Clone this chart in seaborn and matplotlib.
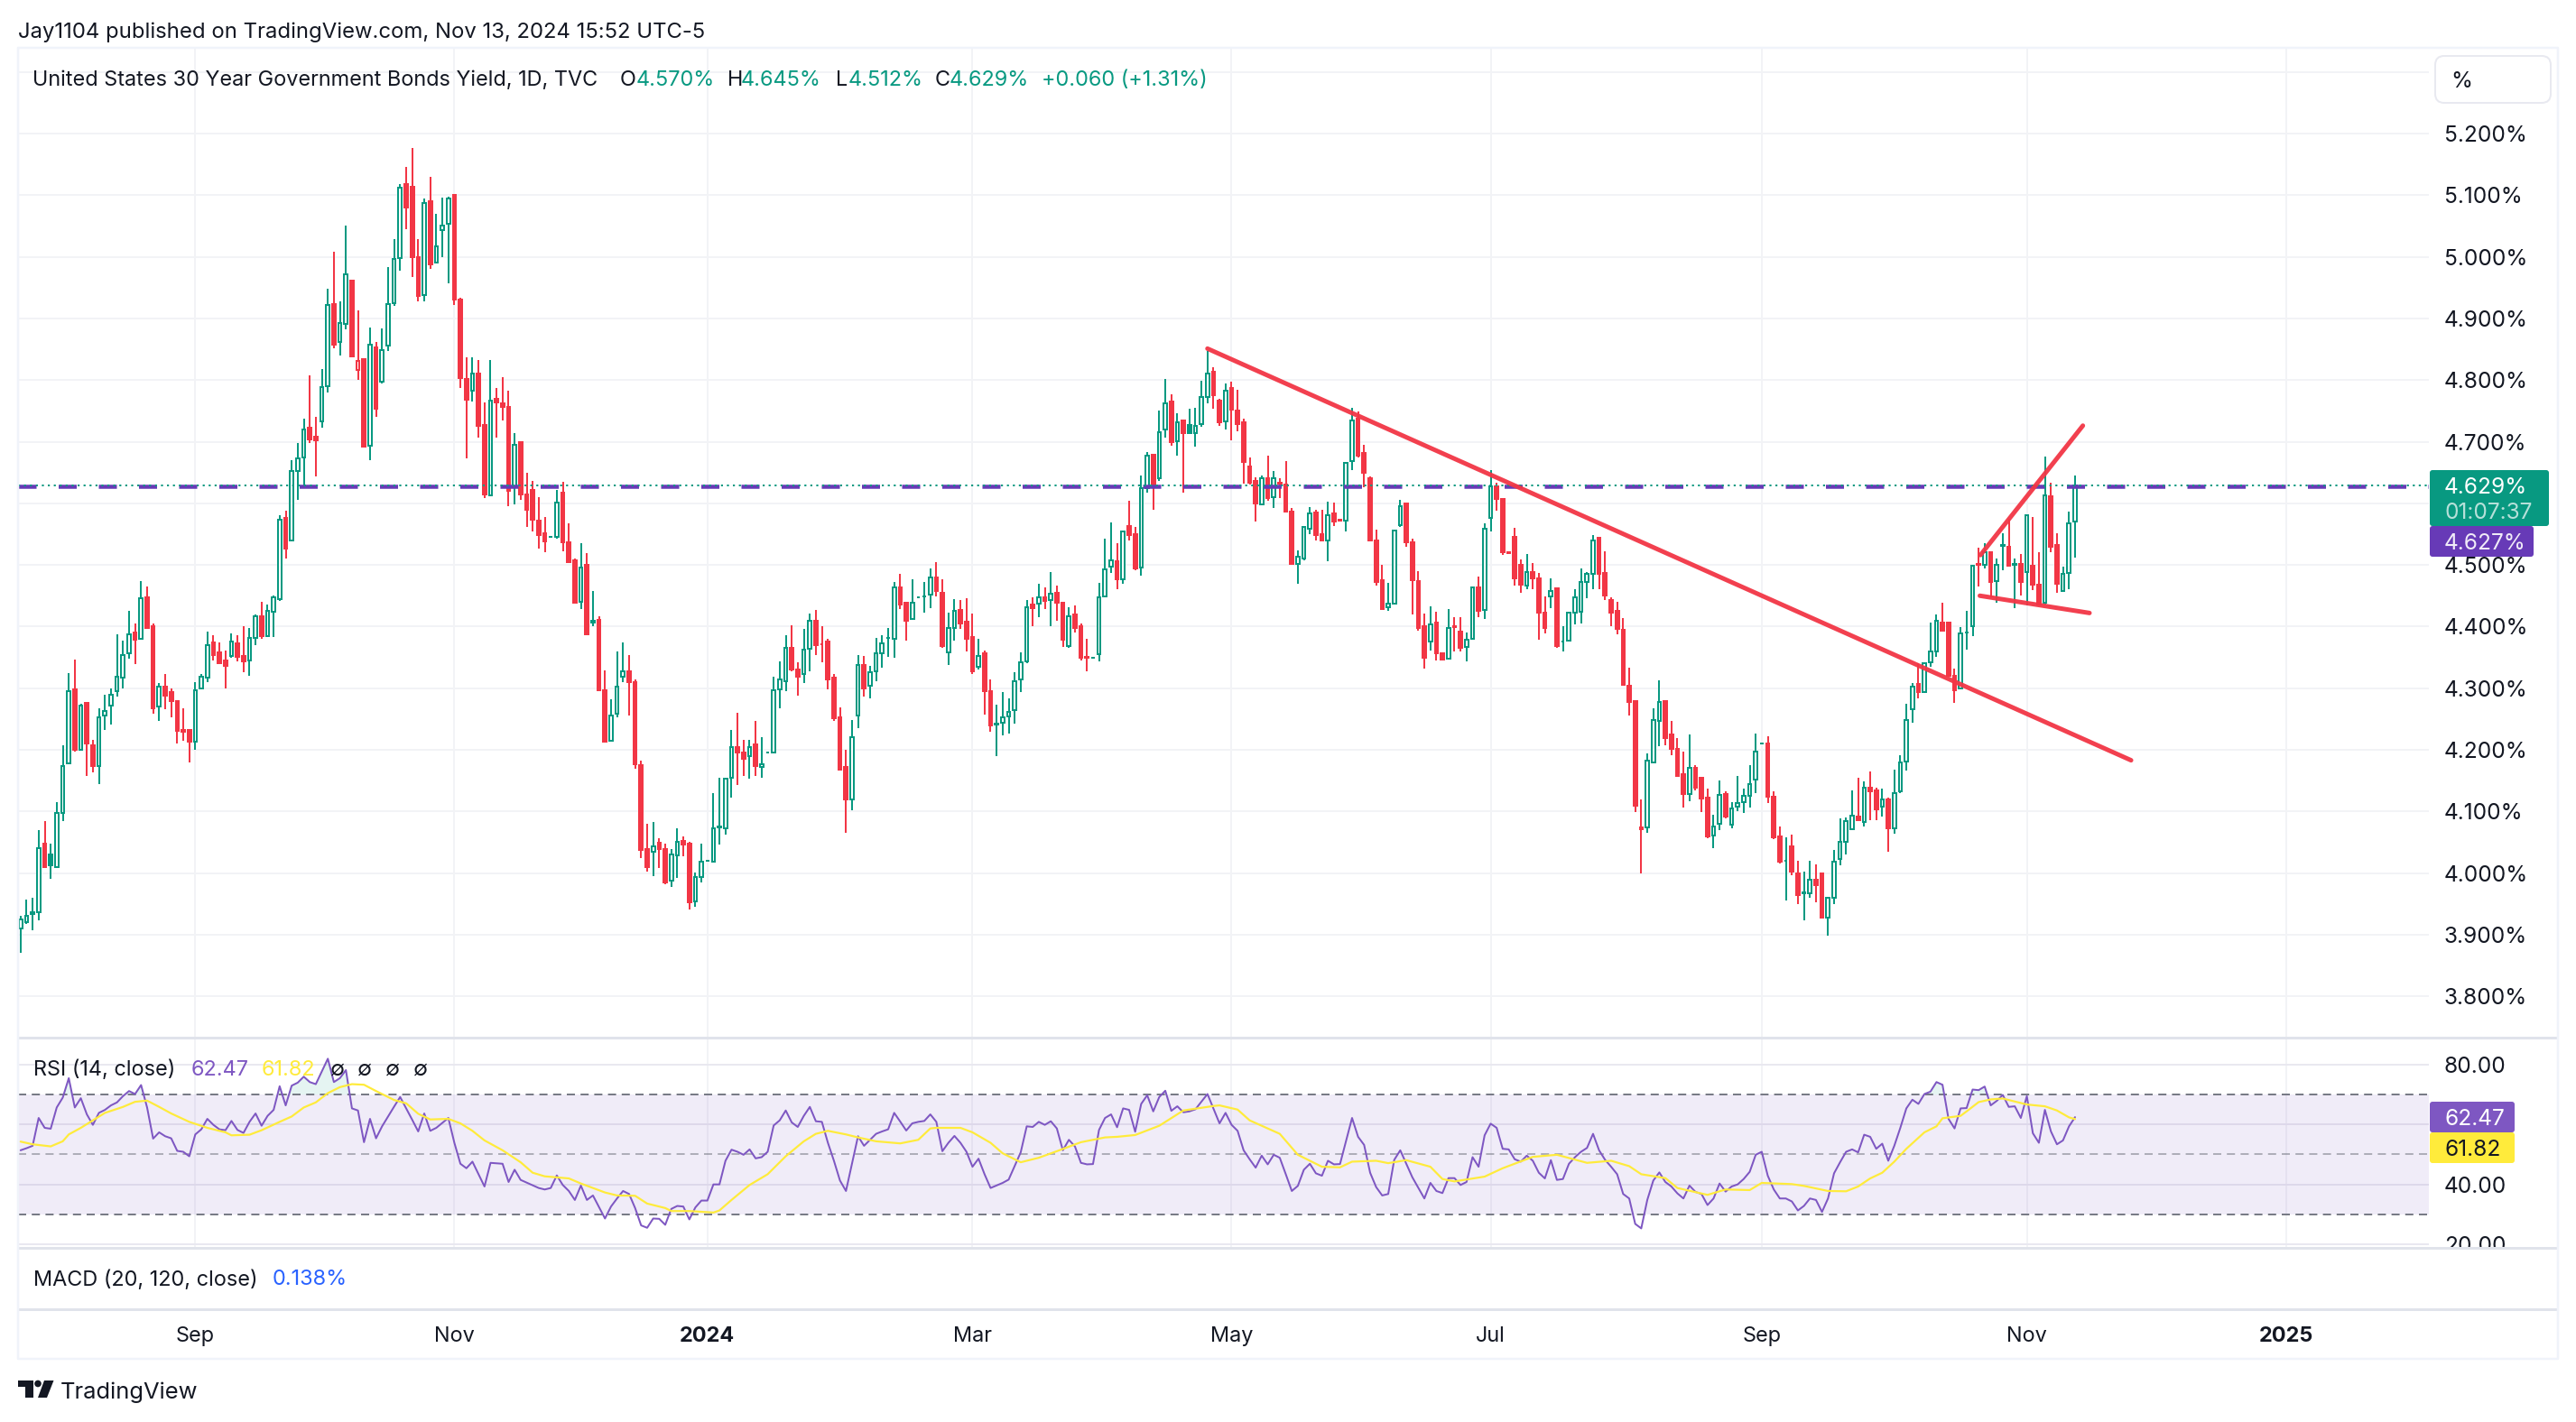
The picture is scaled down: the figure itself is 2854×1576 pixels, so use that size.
#!/usr/bin/env python3
# -*- coding: utf-8 -*-
import numpy as np
import matplotlib
matplotlib.use('Agg')
import matplotlib.pyplot as plt
from matplotlib.patches import Rectangle, Polygon, Circle, FancyBboxPatch
import seaborn as sns

### daily candles
opens = [3.91,3.92,3.933,3.937,4.047,4.03,4.01,4.097,4.178,4.298,
    4.2,4.276,4.208,4.173,4.256,4.272,4.295,4.317,4.357,4.39,
    4.38,4.447,4.4,4.27,4.302,4.293,4.279,4.232,4.232,4.213,
    4.3,4.317,4.374,4.358,4.345,4.352,4.373,4.352,4.345,4.382,
    4.417,4.385,4.424,4.445,4.577,4.54,4.653,4.675,4.723,4.708,
    4.733,4.79,4.923,4.862,4.891,4.961,4.817,4.834,4.694,4.853,
    4.797,4.856,4.925,4.998,5.118,5.113,5.0,4.938,5.09,4.99,
    5.044,5.054,5.1,4.93,4.802,4.783,4.81,4.727,4.613,4.77,
    4.762,4.757,4.626,4.7,4.615,4.622,4.572,4.551,4.546,4.545,
    4.618,4.537,4.508,4.44,4.5,4.407,4.411,4.297,4.215,4.258,
    4.318,4.328,4.31,4.175,4.039,4.035,4.049,4.039,3.987,4.029,
    4.052,4.047,3.954,3.994,4.02,4.019,4.074,4.072,4.154,4.205,
    4.195,4.19,4.209,4.172,4.196,4.196,4.298,4.312,4.366,4.331,
    4.323,4.364,4.41,4.372,4.375,4.317,4.252,4.172,4.12,4.256,
    4.337,4.304,4.328,4.356,4.382,4.38,4.463,4.438,4.412,4.447,
    4.449,4.452,4.48,4.455,4.358,4.397,4.427,4.408,4.383,4.335,
    4.357,4.295,4.241,4.244,4.254,4.264,4.314,4.343,4.435,4.437,
    4.448,4.443,4.455,4.438,4.368,4.419,4.401,4.351,4.349,4.355,
    4.449,4.497,4.506,4.477,4.563,4.55,4.496,4.625,4.679,4.641,
    4.72,4.765,4.701,4.734,4.727,4.714,4.728,4.772,4.814,4.766,
    4.733,4.787,4.75,4.731,4.66,4.636,4.598,4.641,4.61,4.633,
    4.631,4.587,4.501,4.51,4.559,4.585,4.55,4.54,4.584,4.573,
    4.572,4.668,4.738,4.682,4.641,4.539,4.475,4.431,4.437,4.565,
    4.599,4.537,4.474,4.401,4.376,4.406,4.357,4.348,4.4,4.392,
    4.367,4.38,4.464,4.427,4.576,4.627,4.607,4.52,4.546,4.5,
    4.466,4.489,4.478,4.422,4.449,4.462,4.375,4.377,4.422,4.424,
    4.473,4.486,4.544,4.487,4.443,4.425,4.395,4.304,4.279,4.074,
    4.074,4.179,4.247,4.279,4.225,4.201,4.16,4.128,4.171,4.155,
    4.122,4.061,4.08,4.128,4.078,4.108,4.115,4.126,4.151,4.21,
    4.21,4.124,4.059,4.02,4.044,4.0,3.967,3.967,3.989,4.0,
    3.928,3.96,4.023,4.05,4.071,4.091,4.083,4.139,4.134,4.108,
    4.119,4.072,4.132,4.181,4.266,4.307,4.294,4.342,4.36,4.406,
    4.406,4.32,4.299,4.39,4.401,4.501,4.5,4.521,4.474,4.531,
    4.53,4.5,4.502,4.489,4.498,4.468,4.438,4.612,4.532,4.458,4.487,4.57]
highs = [3.93,3.957,3.96,4.07,4.085,4.047,4.115,4.208,4.325,4.347,
    4.275,4.276,4.216,4.268,4.29,4.3,4.388,4.377,4.426,4.405,
    4.474,4.465,4.405,4.309,4.323,4.3,4.279,4.268,4.232,4.31,
    4.323,4.392,4.386,4.374,4.361,4.389,4.386,4.4,4.397,4.42,
    4.44,4.436,4.45,4.581,4.588,4.67,4.698,4.738,4.808,4.74,
    4.818,4.948,5.008,4.927,5.05,4.961,4.913,4.835,4.885,4.862,
    4.884,4.983,5.029,5.118,5.146,5.176,5.029,5.095,5.13,5.07,
    5.096,5.097,5.102,4.934,4.837,4.837,4.832,4.763,4.832,4.787,
    4.805,4.782,4.714,4.7,4.65,4.637,4.61,4.578,4.547,4.622,
    4.635,4.568,4.511,4.536,4.519,4.458,4.417,4.329,4.282,4.36,
    4.374,4.354,4.314,4.182,4.08,4.083,4.056,4.047,4.039,4.073,
    4.059,4.051,4.001,4.047,4.021,4.13,4.155,4.155,4.232,4.26,
    4.216,4.216,4.247,4.22,4.197,4.319,4.344,4.386,4.402,4.342,
    4.396,4.421,4.427,4.4,4.38,4.323,4.269,4.2,4.249,4.354,
    4.352,4.336,4.382,4.386,4.398,4.472,4.486,4.438,4.476,4.448,
    4.473,4.494,4.505,4.477,4.423,4.444,4.443,4.446,4.421,4.38,
    4.361,4.314,4.273,4.293,4.284,4.326,4.358,4.443,4.448,4.47,
    4.463,4.489,4.466,4.438,4.431,4.434,4.405,4.38,4.35,4.471,
    4.543,4.569,4.535,4.555,4.604,4.562,4.645,4.683,4.679,4.75,
    4.802,4.777,4.746,4.734,4.754,4.755,4.799,4.847,4.821,4.77,
    4.795,4.798,4.784,4.738,4.674,4.642,4.645,4.677,4.653,4.641,
    4.669,4.592,4.523,4.562,4.594,4.589,4.589,4.603,4.601,4.574,
    4.666,4.755,4.749,4.695,4.644,4.557,4.5,4.471,4.557,4.606,
    4.6,4.542,4.49,4.421,4.433,4.424,4.357,4.428,4.415,4.415,
    4.39,4.463,4.481,4.567,4.654,4.634,4.607,4.521,4.56,4.509,
    4.517,4.503,4.487,4.449,4.478,4.462,4.401,4.423,4.461,4.494,
    4.488,4.549,4.544,4.522,4.447,4.44,4.414,4.333,4.279,4.12,
    4.194,4.268,4.313,4.279,4.247,4.219,4.197,4.225,4.175,4.155,
    4.137,4.095,4.15,4.132,4.115,4.158,4.137,4.175,4.226,4.211,
    4.222,4.133,4.076,4.058,4.062,4.02,4.002,4.02,4.014,4.0,
    3.962,4.037,4.088,4.09,4.134,4.154,4.149,4.165,4.139,4.137,
    4.123,4.168,4.191,4.274,4.309,4.341,4.34,4.407,4.42,4.438,
    4.406,4.332,4.399,4.426,4.499,4.528,4.536,4.522,4.511,4.552,
    4.575,4.511,4.517,4.581,4.578,4.52,4.676,4.633,4.551,4.497,4.586,4.645]
lows = [3.87,3.917,3.907,3.924,4.01,3.99,4.008,4.085,4.176,4.197,
    4.2,4.158,4.164,4.144,4.232,4.241,4.286,4.3,4.348,4.339,
    4.38,4.397,4.258,4.247,4.266,4.253,4.21,4.215,4.179,4.2,
    4.3,4.31,4.345,4.339,4.3,4.35,4.343,4.326,4.32,4.37,
    4.38,4.383,4.383,4.441,4.51,4.54,4.605,4.628,4.698,4.643,
    4.723,4.78,4.852,4.84,4.882,4.838,4.8,4.69,4.67,4.74,
    4.795,4.847,4.92,4.978,5.045,4.967,4.928,4.928,4.98,4.99,
    5.0,4.957,4.922,4.787,4.673,4.765,4.706,4.608,4.612,4.707,
    4.735,4.596,4.598,4.605,4.562,4.554,4.526,4.52,4.545,4.543,
    4.522,4.505,4.438,4.428,4.388,4.4,4.296,4.213,4.213,4.253,
    4.31,4.255,4.169,4.024,4.002,3.995,4.008,3.982,3.977,3.992,
    4.027,3.941,3.945,3.985,4.019,4.019,4.046,4.062,4.122,4.143,
    4.158,4.153,4.157,4.154,4.195,4.196,4.267,4.295,4.328,4.288,
    4.309,4.328,4.354,4.342,4.298,4.247,4.168,4.066,4.102,4.235,
    4.286,4.283,4.311,4.333,4.351,4.349,4.428,4.377,4.412,4.446,
    4.422,4.43,4.449,4.366,4.338,4.377,4.396,4.359,4.323,4.331,
    4.257,4.23,4.19,4.223,4.226,4.242,4.293,4.34,4.401,4.415,
    4.428,4.4,4.409,4.367,4.366,4.391,4.345,4.328,4.348,4.344,
    4.447,4.487,4.461,4.469,4.54,4.491,4.482,4.617,4.589,4.636,
    4.706,4.694,4.678,4.617,4.713,4.692,4.724,4.762,4.753,4.725,
    4.72,4.702,4.717,4.632,4.631,4.57,4.598,4.604,4.592,4.608,
    4.586,4.501,4.469,4.507,4.55,4.539,4.539,4.506,4.563,4.571,
    4.554,4.654,4.674,4.626,4.539,4.467,4.429,4.425,4.436,4.561,
    4.53,4.419,4.393,4.332,4.361,4.345,4.347,4.348,4.36,4.36,
    4.344,4.378,4.415,4.413,4.554,4.588,4.516,4.518,4.466,4.455,
    4.46,4.461,4.378,4.389,4.43,4.366,4.359,4.377,4.403,4.405,
    4.446,4.46,4.46,4.443,4.4,4.387,4.305,4.255,4.099,4.0,
    4.066,4.179,4.206,4.208,4.191,4.156,4.106,4.117,4.134,4.099,
    4.056,4.041,4.07,4.088,4.072,4.1,4.097,4.107,4.129,4.209,
    4.114,4.055,4.015,3.956,3.996,3.949,3.923,3.96,3.952,3.928,
    3.899,3.949,4.013,4.03,4.071,4.085,4.076,4.086,4.086,4.092,
    4.034,4.064,4.129,4.167,4.244,4.283,4.293,4.335,4.351,4.393,
    4.32,4.276,4.298,4.363,4.385,4.465,4.495,4.448,4.438,4.492,
    4.497,4.43,4.45,4.434,4.459,4.435,4.436,4.52,4.455,4.458,4.46,4.512]
closes = [3.925,3.93,3.936,4.04,4.01,4.012,4.097,4.174,4.295,4.2,
    4.272,4.21,4.174,4.252,4.263,4.29,4.318,4.354,4.388,4.378,
    4.446,4.397,4.268,4.303,4.288,4.279,4.231,4.229,4.213,4.297,
    4.318,4.37,4.354,4.341,4.336,4.375,4.351,4.343,4.381,4.417,
    4.385,4.426,4.447,4.574,4.527,4.653,4.673,4.72,4.703,4.702,
    4.789,4.922,4.857,4.892,4.972,4.838,4.831,4.692,4.857,4.753,
    4.849,4.923,4.997,5.112,5.08,5.0,4.937,5.087,4.988,5.017,
    5.05,5.095,4.93,4.803,4.768,4.81,4.725,4.615,4.766,4.763,
    4.757,4.62,4.695,4.615,4.59,4.573,4.548,4.538,4.546,4.601,
    4.537,4.505,4.438,4.496,4.388,4.41,4.296,4.213,4.256,4.303,
    4.327,4.31,4.177,4.038,4.01,4.043,4.039,3.985,4.03,4.051,
    4.046,3.953,3.994,4.018,4.02,4.072,4.075,4.153,4.204,4.195,
    4.186,4.205,4.174,4.176,4.196,4.296,4.314,4.366,4.33,4.319,
    4.363,4.41,4.37,4.371,4.314,4.251,4.168,4.119,4.221,4.338,
    4.3,4.326,4.357,4.373,4.382,4.464,4.436,4.41,4.438,4.447,
    4.449,4.479,4.457,4.368,4.398,4.426,4.405,4.38,4.328,4.353,
    4.295,4.239,4.243,4.252,4.262,4.311,4.342,4.431,4.43,4.447,
    4.442,4.454,4.438,4.379,4.417,4.398,4.349,4.35,4.349,4.448,
    4.493,4.508,4.476,4.555,4.549,4.494,4.624,4.678,4.63,4.716,
    4.762,4.699,4.732,4.714,4.714,4.725,4.772,4.811,4.776,4.732,
    4.783,4.752,4.728,4.667,4.634,4.6,4.64,4.609,4.64,4.632,
    4.586,4.501,4.514,4.562,4.583,4.549,4.539,4.581,4.571,4.572,
    4.666,4.734,4.677,4.65,4.539,4.472,4.429,4.437,4.556,4.596,
    4.537,4.475,4.397,4.349,4.404,4.357,4.347,4.398,4.399,4.366,
    4.378,4.463,4.426,4.559,4.628,4.607,4.521,4.519,4.478,4.468,
    4.489,4.478,4.422,4.397,4.458,4.369,4.376,4.423,4.448,4.473,
    4.485,4.54,4.485,4.451,4.423,4.396,4.305,4.277,4.109,4.071,
    4.182,4.248,4.278,4.219,4.201,4.158,4.128,4.171,4.139,4.121,
    4.06,4.076,4.127,4.091,4.105,4.113,4.126,4.145,4.197,4.21,
    4.124,4.058,4.018,4.02,4.003,3.964,3.968,3.989,3.98,3.928,
    3.96,4.019,4.051,4.084,4.093,4.086,4.139,4.133,4.104,4.119,
    4.072,4.129,4.179,4.249,4.303,4.294,4.34,4.36,4.41,4.393,
    4.32,4.297,4.389,4.39,4.499,4.5,4.52,4.472,4.5,4.532,
    4.498,4.501,4.473,4.58,4.468,4.435,4.613,4.529,4.47,4.486,4.567,4.629]
filled_green = [5, 194]
hollow_red = [56]

### RSI line vertices: bar number, value
rsi_idx = [0,1,2,3,4,5,6,7,8,9,10,11,12,13,14,15,16,17,18,19,20,21,22,23,24,25,26,27,28,29,
    30,31,32,33,34,35,36,37,38,39,40,41,42,43,44,45,46,47,48,49,51,52,53,54,55,56,57,58,59,60,
    62,63,65,66,67,68,69,71,72,73,74,75,77,78,80,81,82,83,86,87,88,89,90,91,92,93,94,95,97,98,
    99,100,101,102,103,104,105,106,107,108,109,110,111,112,113,114,115,116,117,118,119,120,121,122,123,124,125,126,127,128,
    129,130,131,132,133,134,135,136,137,139,140,141,142,143,144,145,146,147,148,149,150,151,152,153,154,155,156,157,158,159,
    160,161,163,164,166,167,168,169,170,171,172,173,174,175,176,177,178,179,180,181,182,183,184,185,186,187,188,189,190,191,
    192,193,194,195,197,199,200,201,202,203,204,205,206,207,208,209,210,211,212,213,214,215,216,217,218,219,221,222,223,224,
    225,226,227,228,229,231,233,234,235,236,237,238,239,240,241,242,243,244,245,246,247,248,249,250,251,252,253,254,255,256,
    257,258,259,260,261,262,263,264,265,266,267,268,269,270,271,272,273,274,275,276,277,278,279,280,281,282,283,284,285,286,
    287,288,289,290,291,292,293,294,295,296,297,298,299,300,301,302,303,304,305,306,307,308,309,310,311,312,313,314,315,316,
    317,318,319,320,321,322,323,324,325,326,327,328,329,330,331,332,333,334,335,336,337,338,339,340,341]
rsi_val = [51.4,52.1,52.9,62.2,58.9,58.6,65.7,69,75.5,65.7,68.8,63.4,59.9,63.9,64.9,66.4,67.4,69.5,71.2,70.2,73.2,65.7,55.3,57.4,56.1,55.4,51.2,50.9,49.4,56.7,
    58.4,61.9,59.9,58.4,58.1,61.2,58.2,57.2,60.9,63.7,59.6,62.9,64.9,72.8,66.4,73,74,76,74.2,73.5,82,74.2,75.5,78.2,65.4,64.7,54.1,61.9,55.4,59.4,
    66,69.2,61.6,57.7,63.7,57.9,58.9,62.2,53.9,46.9,45.4,47.6,39.3,47.2,46.9,40.8,44.9,41.5,38.8,38.3,38.8,43,39.8,37.8,34.8,39.6,34.8,36.3,28.6,32.6,
    35.3,37.8,36.8,32.1,26.3,25.5,28.6,28.5,26.5,31.8,32.8,32.6,28.3,32.3,34.6,34.6,40,40,47.9,51.6,50.9,49.9,51.7,48.7,49.1,50.9,59.7,61.4,64.7,60.7,
    59.2,62.9,65.9,61.1,60.9,53.9,47.9,41.3,37.8,56.1,52.9,54.9,56.9,57.7,58.4,63.9,61,58,60.4,60.9,61.2,63.4,60.9,51.1,53.9,56.2,53.9,50.9,45.9,48.6,
    43.4,38.8,40.5,41.6,50.7,59.4,59.2,60.9,59.9,61.1,58.7,51.4,54.9,52.7,47.2,46.7,46.8,58.2,62.2,63.4,59.1,65.4,64.9,57.6,66.9,69.8,64.4,69.2,71.3,64.6,
    66.1,64.1,64.4,65.1,70.2,60.4,63.9,59.9,57.9,51.4,48.4,45.6,49.6,46.7,49.9,48.9,43.4,37.8,39.5,44.9,46.9,43.7,42.9,47.9,46.7,46.8,62.2,55.9,53.2,43.9,
    39.1,36.3,36.8,48.2,51.4,42.4,35.3,40.5,37.8,37.1,42.1,42.1,39.8,40.8,49.1,45.9,56.4,60.3,58.9,51.9,51.7,48.4,47.6,49.6,47.9,43.9,42,48.1,41.5,41.8,
    46.9,49.1,50.9,52.2,56.9,51.4,48.2,45.9,43.4,36.8,35.3,26.8,25.3,34.8,41.3,44,40.8,39.3,37,35.3,39.6,37.5,36.8,33.1,35.3,40.3,37.6,39.3,40,41.8,
    44.2,49.9,50.9,42.9,38.3,35.3,35.3,34.3,31.3,32.8,35.3,34.8,30.8,35.3,43.7,47.4,50.9,51.7,50.7,56.6,55.9,51.9,53.6,47.9,52.9,58.9,65.4,68.3,66.9,70.2,
    71,74.2,73.3,61.9,58.7,65.4,65.5,71.7,71.5,72.7,66.4,67.9,69.9,65.9,66.1,62.2,69.5,57.1,53.9,64.9,57.7,53.4,54.7,59.4,62.47]

### RSI moving average vertices
ma_idx = [0,2,5,7,8,10,12,14,17,19,21,23,25,28,31,34,35,38,40,43,45,47,49,51,53,55,57,59,62,64,
    66,68,71,73,75,77,80,83,85,87,91,93,97,99,102,104,107,108,111,115,116,118,121,124,127,130,132,134,137,139,
    142,146,149,151,152,156,158,161,163,166,169,172,176,180,182,185,189,193,195,198,199,202,204,209,212,216,219,221,225,227,
    230,234,236,238,243,246,249,251,255,260,264,267,269,273,275,280,283,287,289,294,296,300,303,305,307,309,311,313,316,318,
    319,322,323,325,327,329,333,336,338,340,341]
ma_val = [54.3,53.4,52.7,54.4,56.7,58.9,61.4,63.9,65.9,67.6,68,65.9,63.7,60.9,58.9,57.4,56.4,56.6,58.1,60.9,62.7,65.7,67.4,70.5,72.5,73.5,73.3,71.2,68.2,67.1,
    63.6,61.7,61.9,60.4,57.9,54.7,51.4,47.4,43.9,42.7,42,40.3,37.3,36.3,36.2,33.6,32.1,31.1,31.1,30.6,31.3,34.8,39.8,43.4,49.4,54.4,56.9,57.9,56.7,55.7,
    54.4,53.7,54.9,58.7,58.9,58.9,57.4,53.9,50.4,47.4,48.9,51.1,54.1,55.7,55.9,56.5,59.6,64.7,65.3,66.2,66.4,65,61.4,56.9,49.9,45.9,45.7,47.6,47.9,47.1,
    48.1,45.9,41.8,41,42.6,45.4,47.7,49.2,49.9,47.2,47.9,46.1,43.4,42.1,38.8,36.5,38.3,38.1,40.5,40.1,39.5,37.8,37.7,39.3,42,43.9,47.6,51.9,57.4,59.4,
    62.1,62.9,64.4,67.5,68.4,68.7,66.7,66.1,64.7,62.4,61.82]

### hand drawn trend lines: (bar, yield)
trend_lines = [((197.0, 4.851), (350.3, 4.183)),
               ((325.3, 4.516), (342.3, 4.726)),
               ((325.2, 4.450), (343.4, 4.422))]

price_ticks = [5.3, 5.2, 5.1, 5.0, 4.9, 4.8, 4.7, 4.6, 4.5, 4.4, 4.3, 4.2, 4.1, 4.0, 3.9, 3.8]
price_hidden = [5.3, 4.6]  # sit behind the % button and the last price tag
rsi_ticks = [80, 60, 40, 20]
rsi_hidden = [60]
month_pos = [29, 72, 114, 158, 201, 244, 289, 333, 376]
month_labels = ['Sep', 'Nov', '2024', 'Mar', 'May', 'Jul', 'Sep', 'Nov', '2025']

last_close = 4.629
last_ma = 4.627

GREEN = '#089981'
RED = '#f23645'
PURPLE = '#673ab7'
RSI_COL = '#7e57c2'
YELLOW = '#ffeb3b'
INK = '#131722'
GRID = '#f2f3f6'
SEP = '#e0e3eb'
EDGE = '#f0f3fa'

W, H = 2854, 1576
PANE_L, PANE_R = 20, 2690.6
BAR0, BAR_STEP = 22.8, 6.675
FS = 17.6
FS_TEXT = 16.9

sns.set_theme(style='white')
plt.rcParams['font.family'] = ['Inter', 'DejaVu Sans']
plt.rcParams['lines.scale_dashes'] = False
px = 0.72  # one pixel in points at dpi 100

fig = plt.figure(figsize=(W / 100, H / 100), dpi=100, facecolor='white')


def pane(top, bottom):
    ax = fig.add_axes([PANE_L / W, 1 - bottom / H, (PANE_R - PANE_L) / W, (bottom - top) / H])
    ax.set_xlim((PANE_L - BAR0) / BAR_STEP, (PANE_R - BAR0) / BAR_STEP)
    for s in ax.spines.values():
        s.set_visible(False)
    ax.tick_params(length=0, labelbottom=False, labelleft=False)
    return ax


### price pane
ax = pane(54, 1149)
ax.set_ylim(5.2 - (1149 - 148) / 683, 5.2 + (148 - 54) / 683)
ax.set_axisbelow(True)
ax.set_xticks(month_pos)
ax.set_yticks(price_ticks)
ax.set_yticklabels(['' if t in price_hidden else '%.3f%%' % t for t in price_ticks], fontsize=FS, color=INK)
ax.yaxis.tick_right()
ax.tick_params(axis='y', length=0, pad=12.5, labelright=True, labelleft=False)
ax.grid(True, color=GRID, linewidth=2 * px)

o, h, l, c = map(np.array, (opens, highs, lows, closes))
x = np.arange(len(c))
up = c >= o
up[hollow_red] = False
up[filled_green] = True
colors = np.where(up, GREEN, RED)
filled = c < o
filled[hollow_red] = False
filled[filled_green] = True
faces = [col if f else 'white' for col, f in zip(colors, filled)]
ax.vlines(x, l, np.minimum(o, c), colors=colors, linewidth=2 * px, zorder=3)
ax.vlines(x, np.maximum(o, c), h, colors=colors, linewidth=2 * px, zorder=3)
ax.bar(x, np.abs(c - o), bottom=np.minimum(o, c), width=0.55, color=faces,
       edgecolor=colors, linewidth=2 * px, zorder=4)

ax.axhline(last_ma, color=PURPLE, linewidth=4.5 * px, dashes=(20 * px, 24.5 * px), zorder=5)
ax.axhline(last_close, color=GREEN, linewidth=2 * px, dashes=(2.2 * px, 4.4 * px), zorder=5)
for (x0, y0), (x1, y1) in trend_lines:
    ax.plot([x0, x1], [y0, y1], color=RED, linewidth=5 * px, solid_capstyle='round', alpha=0.95, zorder=6)

### RSI pane
ax_rsi = pane(1151, 1382.5)
ax_rsi.set_axisbelow(True)
ax_rsi.axhspan(30, 70, color=RSI_COL, alpha=0.11, linewidth=0)
ax_rsi.set_xticks(month_pos)
ax_rsi.set_yticks(rsi_ticks)
ax_rsi.set_yticklabels(['' if t in rsi_hidden else '%.2f' % t for t in rsi_ticks], fontsize=FS, color=INK)
ax_rsi.yaxis.tick_right()
ax_rsi.tick_params(axis='y', length=0, pad=12.5, labelright=True, labelleft=False)
ax_rsi.grid(True, color=GRID, linewidth=2 * px)
ax_rsi.grid(True, axis='y', color='#e9e8f0', linewidth=2 * px)
for level, alpha in ((70, 1.0), (50, 0.55), (30, 1.0)):
    ax_rsi.axhline(level, color='#787b86', alpha=alpha, linewidth=2 * px, dashes=(9 * px, 6.2 * px), zorder=2)
rsi_x, rsi_y = np.array(rsi_idx), np.array(rsi_val)
ax_rsi.fill_between(rsi_x, 70, rsi_y, where=rsi_y > 70, interpolate=True, color=GREEN, alpha=0.1, linewidth=0)
sns.lineplot(x=rsi_idx, y=rsi_val, ax=ax_rsi, color=RSI_COL, linewidth=2 * px, estimator=None, zorder=4)
sns.lineplot(x=ma_idx, y=ma_val, ax=ax_rsi, color=YELLOW, linewidth=2.2 * px, estimator=None, zorder=5)
ax_rsi.set_xlim((PANE_L - BAR0) / BAR_STEP, (PANE_R - BAR0) / BAR_STEP)
ax_rsi.set_ylim(20 - (1382.5 - 1379) / 3.3167, 80 + (1180 - 1151) / 3.3167)
ax_rsi.set_xlabel('')
ax_rsi.set_ylabel('')

### time axis
ax_time = pane(1452, 1505)
ax_time.set_yticks([])
ax_time.set_xticks([])
for pos, lab in zip(month_pos, month_labels):
    bold = lab.isdigit()
    ax_time.text(pos, 0.46, lab, transform=ax_time.get_xaxis_transform(), ha='center', va='center',
                 fontsize=FS_TEXT, color=INK, fontweight='bold' if bold else 'normal')

### overlay in pixels: frame, price tags, legends
top = fig.add_axes([0, 0, 1, 1], zorder=10)
top.set_xlim(0, W)
top.set_ylim(H, 0)
top.axis('off')
top.patch.set_alpha(0)


def label(xp, yp, s, color=INK, size=FS_TEXT, **kw):
    kw.setdefault('va', 'center_baseline')
    return top.text(xp, yp, s, color=color, fontsize=size, **kw)


# hides the lower part of the clipped 20.00 label
top.add_patch(Rectangle((2692, 1384), 140, 20, color='white', linewidth=0))
for yp in (1150, 1382.7, 1451):
    top.plot([PANE_L, 2834], [yp, yp], color=SEP, linewidth=3 * px, solid_capstyle='butt')
top.plot([PANE_L, 2834, 2834, PANE_L, PANE_L], [53, 53, 1506, 1506, 53], color=EDGE, linewidth=2.5 * px)

label(20, 33, 'Jay1104 published on TradingView.com, Nov 13, 2024 15:52 UTC-5', size=17.2)
label(36, 86, 'United States 30 Year Government Bonds Yield, 1D, TVC')
for xp, s, col in ((687, 'O', INK), (705, '4.570%', GREEN), (806, 'H', INK), (821, '4.645%', GREEN),
                   (926, 'L', INK), (940, '4.512%', GREEN), (1036, 'C', INK), (1052, '4.629%', GREEN),
                   (1154, '+0.060 (+1.31%)', GREEN)):
    label(xp, 86, s, col)

label(37, 1183, 'RSI (14, close)')
label(212, 1183, '62.47', RSI_COL)
label(290, 1183, '61.82', YELLOW)
for xp in (366, 396, 427, 458):
    label(xp, 1183, '\u2205')
label(37, 1416, 'MACD (20, 120, close)')
label(302, 1416, '0.138%', '#2962ff')

top.add_patch(FancyBboxPatch((2698, 62), 128, 52, boxstyle='round,pad=0,rounding_size=10',
                             facecolor='white', edgecolor='#e8e9f0', linewidth=2 * px))
label(2727, 88, '%', ha='center', size=FS)


def tag(y0, y1, x1, col):
    top.add_patch(FancyBboxPatch((2692, y0), x1 - 2692, y1 - y0, boxstyle='round,pad=0,rounding_size=3',
                                 facecolor=col, edgecolor='none'))


tag(521, 583, 2824, GREEN)
label(2708, 538, '%.3f%%' % last_close, 'white', size=FS)
label(2708, 566, '01:07:37', '#b5e0d9', size=FS)
tag(583, 617, 2807, PURPLE)
label(2708, 600, '%.3f%%' % last_ma, '#f0ebf8', size=FS)
tag(1221, 1255, 2786, RSI_COL)
label(2708, 1238, '%.2f' % rsi_val[-1], 'white', size=FS)
tag(1255, 1289, 2786, YELLOW)
label(2708, 1272, '%.2f' % ma_val[-1], INK, size=FS)

# logo
top.add_patch(Polygon([(20, 1530), (36.7, 1530), (36.7, 1549), (28.3, 1549), (28.3, 1537), (20, 1537)], color=INK, linewidth=0))
top.add_patch(Circle((42, 1533.5), 3.8, color=INK, linewidth=0))
top.add_patch(Polygon([(49, 1530), (59.5, 1530), (52, 1549), (42, 1549)], color=INK, linewidth=0))
label(67, 1541, 'TradingView', size=18.4)

fig.savefig('out.png', dpi=100)
